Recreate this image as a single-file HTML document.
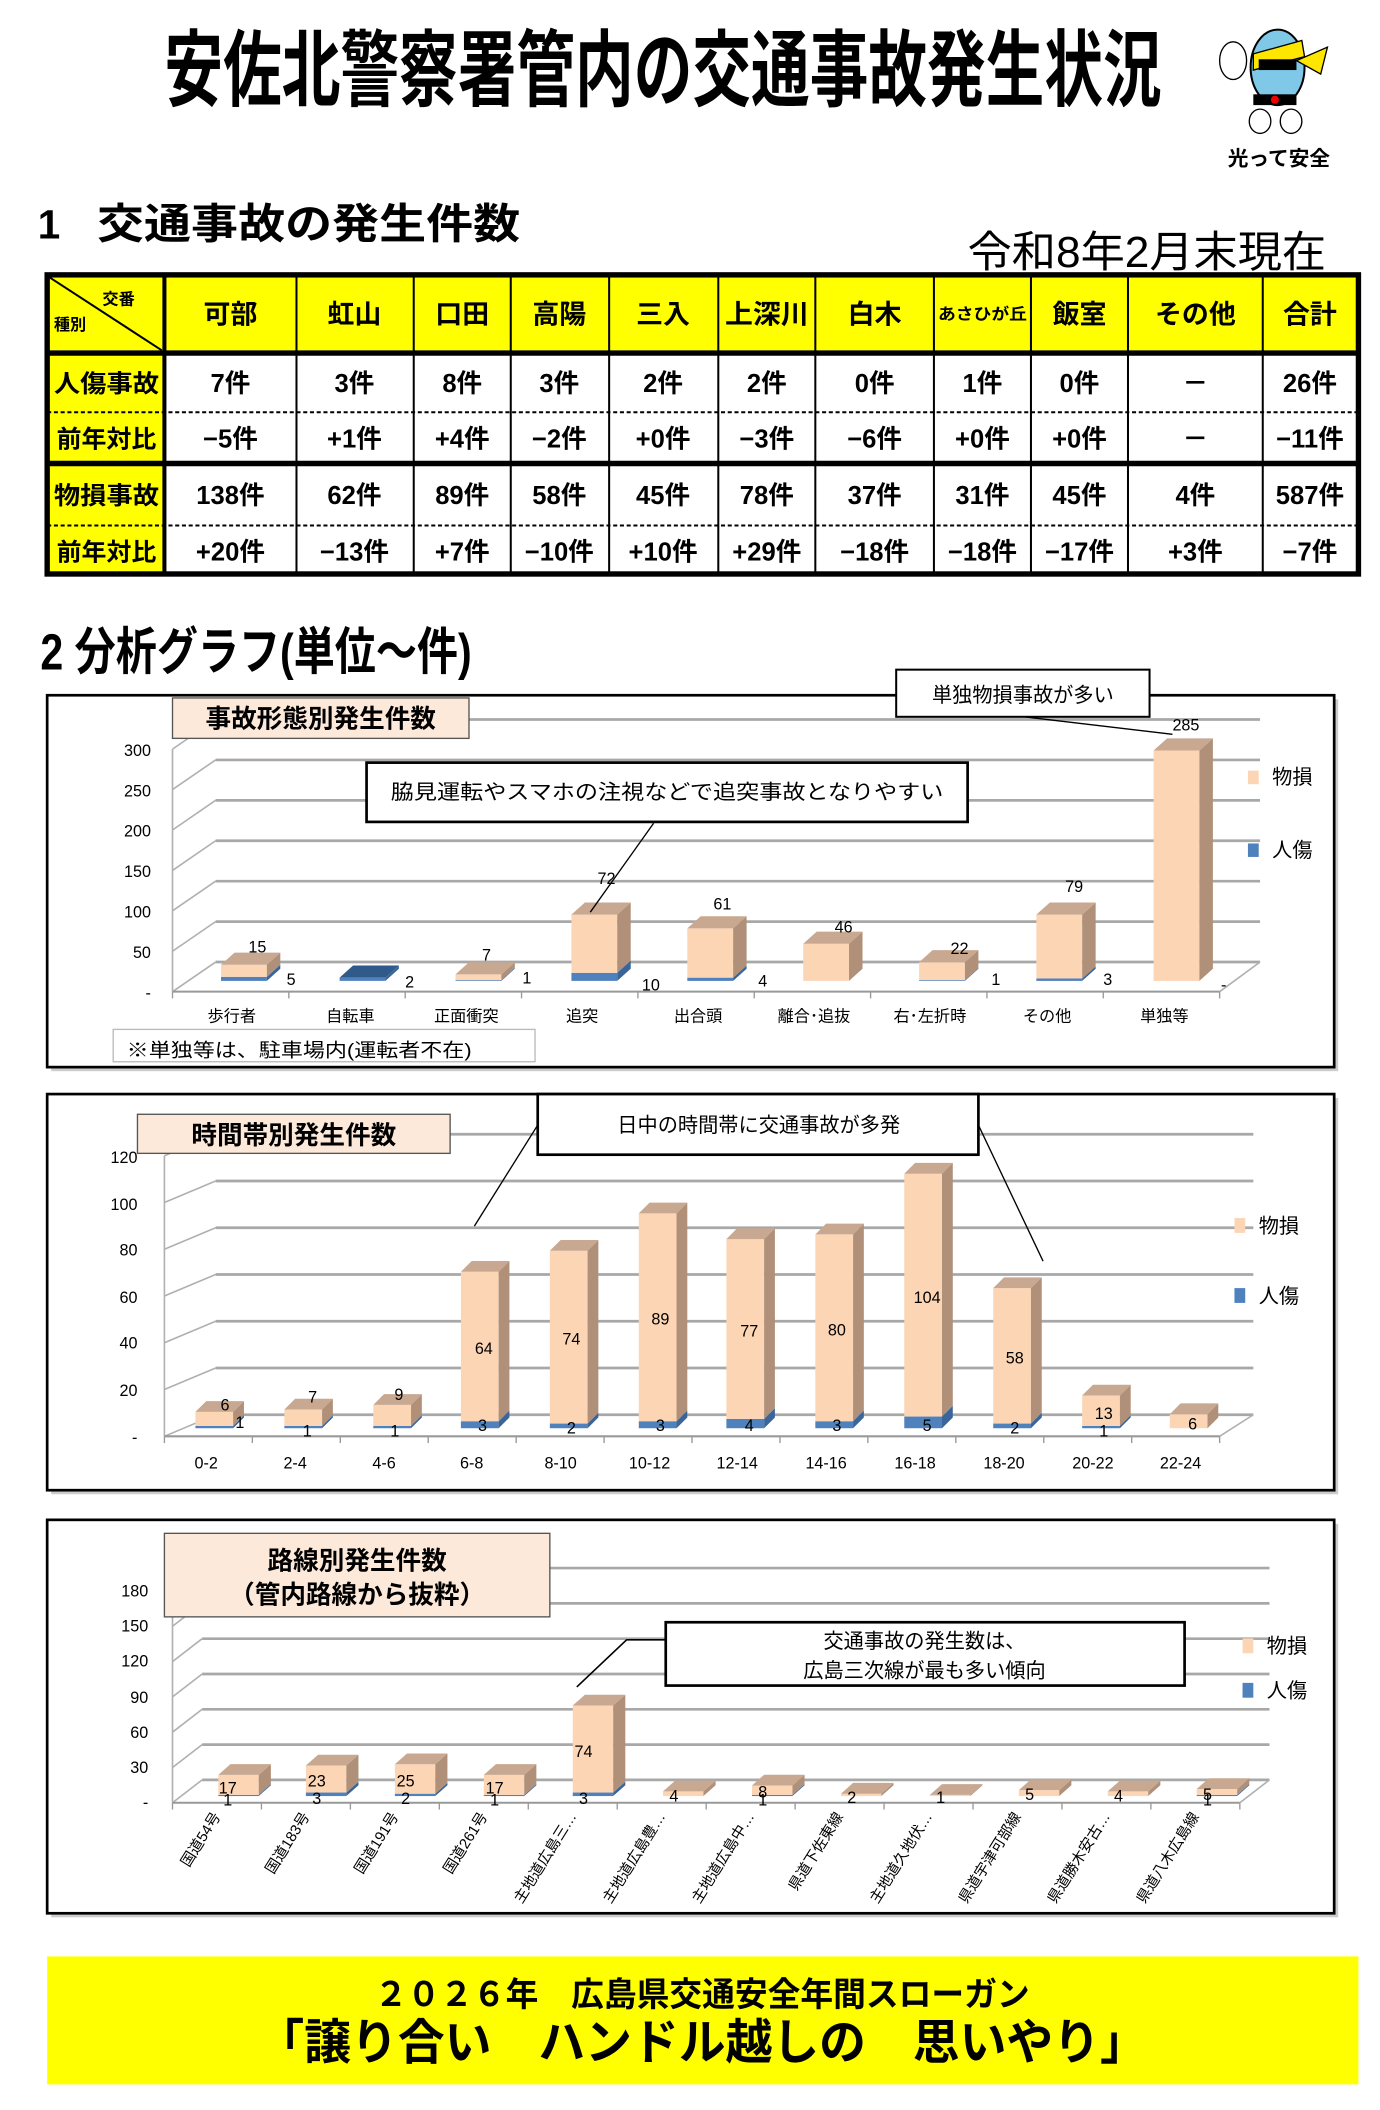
<!DOCTYPE html>
<html><head><meta charset="utf-8"><style>
html,body{margin:0;padding:0;background:#fff}
svg{display:block}
text{font-family:"Liberation Sans","Noto Sans CJK JP",sans-serif}
.b{font-weight:bold}
</style></head><body>
<svg id="s" xmlns="http://www.w3.org/2000/svg" width="1380" height="2110" viewBox="0 0 1024 1566" preserveAspectRatio="none">
<rect width="1024" height="1566" fill="#fff"/>
<text x="122" y="74" font-size="62" class="b" textLength="740" lengthAdjust="spacingAndGlyphs">安佐北警察署管内の交通事故発生状況</text>
<g>
<ellipse cx="948" cy="50" rx="20" ry="28" fill="#7fc8e8" stroke="#000" stroke-width="1.5"/>
<path d="M930 40 L966 30 L968 42 L930 52Z" fill="#ffe600" stroke="#000"/>
<rect x="934" y="44" width="28" height="8" fill="#000"/>
<path d="M962 45 L985 35 L980 55Z" fill="#ffe600" stroke="#000"/>
<ellipse cx="915" cy="45" rx="10" ry="14" fill="#fff" stroke="#000"/>
<rect x="930" y="70" width="32" height="8" fill="#000"/>
<circle cx="946" cy="74" r="3" fill="#e00"/>
<ellipse cx="935" cy="90" rx="8" ry="9" fill="#fff" stroke="#000"/>
<ellipse cx="958" cy="90" rx="8" ry="9" fill="#fff" stroke="#000"/>
<text x="911" y="123" font-size="15" class="b" textLength="76" lengthAdjust="spacingAndGlyphs">光って安全</text>
</g>
<text x="28" y="177" font-size="30" class="b">1</text>
<text x="72" y="177" font-size="31" class="b" textLength="314" lengthAdjust="spacingAndGlyphs">交通事故の発生件数</text>
<text x="718" y="198" font-size="32" textLength="266" lengthAdjust="spacingAndGlyphs">令和8年2月末現在</text>

<g>
<rect x="35" y="204" width="973" height="222" fill="#fff"/>
<rect x="35" y="204" width="973" height="58" fill="#ffff00"/>
<rect x="35" y="204" width="87" height="222" fill="#ffff00"/>
<g stroke="#000" stroke-width="1.5">
<line x1="122" y1="204" x2="122" y2="426" stroke-width="3"/>
<line x1="220" y1="204" x2="220" y2="426"/><line x1="307" y1="204" x2="307" y2="426"/>
<line x1="379" y1="204" x2="379" y2="426"/><line x1="452" y1="204" x2="452" y2="426"/>
<line x1="533" y1="204" x2="533" y2="426"/><line x1="605" y1="204" x2="605" y2="426"/>
<line x1="693" y1="204" x2="693" y2="426"/><line x1="765" y1="204" x2="765" y2="426"/>
<line x1="837" y1="204" x2="837" y2="426"/><line x1="937" y1="204" x2="937" y2="426"/>
<line x1="35" y1="262" x2="1008" y2="262" stroke-width="4"/>
<line x1="35" y1="344" x2="1008" y2="344" stroke-width="4"/>
<line x1="35" y1="306" x2="1008" y2="306" stroke-dasharray="3,2"/>
<line x1="35" y1="390" x2="1008" y2="390" stroke-dasharray="3,2"/>
<line x1="37" y1="206" x2="120" y2="260"/>
</g>
<rect x="35" y="204" width="973" height="222" fill="none" stroke="#000" stroke-width="4"/>
<text x="76" y="226" font-size="12" class="b">交番</text>
<text x="40" y="245" font-size="12" class="b">種別</text>
<g font-size="20" class="b" text-anchor="middle">
<text x="171" y="240">可部</text><text x="263" y="240">虹山</text><text x="343" y="240">口田</text>
<text x="415" y="240">高陽</text><text x="492" y="240">三入</text><text x="569" y="240" textLength="62" lengthAdjust="spacingAndGlyphs">上深川</text>
<text x="649" y="240">白木</text><text x="729" y="237" font-size="12" textLength="66" lengthAdjust="spacingAndGlyphs">あさひが丘</text>
<text x="801" y="240">飯室</text><text x="887" y="240">その他</text><text x="972" y="240">合計</text>
</g>
<g font-size="18" class="b">
<text x="40" y="291" textLength="78" lengthAdjust="spacingAndGlyphs">人傷事故</text>
<text x="42" y="332" textLength="74" lengthAdjust="spacingAndGlyphs">前年対比</text>
<text x="40" y="374" textLength="78" lengthAdjust="spacingAndGlyphs">物損事故</text>
<text x="42" y="416" textLength="74" lengthAdjust="spacingAndGlyphs">前年対比</text>
</g>
<g font-size="19" class="b" text-anchor="middle">
<text x="171" y="291">7件</text><text x="263" y="291">3件</text><text x="343" y="291">8件</text><text x="415" y="291">3件</text><text x="492" y="291">2件</text><text x="569" y="291">2件</text><text x="649" y="291">0件</text><text x="729" y="291">1件</text><text x="801" y="291">0件</text><text x="887" y="291">－</text><text x="972" y="291">26件</text>
<text x="171" y="332">−5件</text><text x="263" y="332">+1件</text><text x="343" y="332">+4件</text><text x="415" y="332">−2件</text><text x="492" y="332">+0件</text><text x="569" y="332">−3件</text><text x="649" y="332">−6件</text><text x="729" y="332">+0件</text><text x="801" y="332">+0件</text><text x="887" y="332">－</text><text x="972" y="332">−11件</text>
<text x="171" y="374">138件</text><text x="263" y="374">62件</text><text x="343" y="374">89件</text><text x="415" y="374">58件</text><text x="492" y="374">45件</text><text x="569" y="374">78件</text><text x="649" y="374">37件</text><text x="729" y="374">31件</text><text x="801" y="374">45件</text><text x="887" y="374">4件</text><text x="972" y="374">587件</text>
<text x="171" y="416">+20件</text><text x="263" y="416">−13件</text><text x="343" y="416">+7件</text><text x="415" y="416">−10件</text><text x="492" y="416">+10件</text><text x="569" y="416">+29件</text><text x="649" y="416">−18件</text><text x="729" y="416">−18件</text><text x="801" y="416">−17件</text><text x="887" y="416">+3件</text><text x="972" y="416">−7件</text>
</g>
</g>

<text x="30" y="497" font-size="38" class="b" textLength="320" lengthAdjust="spacingAndGlyphs">2 分析グラフ(単位～件)</text>

<rect x="38" y="519" width="955" height="276" fill="#ccc"/>
<rect x="35" y="516" width="955" height="276" fill="#fff" stroke="#000" stroke-width="2"/>
<rect x="38" y="815" width="955" height="294" fill="#ccc"/>
<rect x="35" y="812" width="955" height="294" fill="#fff" stroke="#000" stroke-width="2"/>
<rect x="38" y="1131" width="955" height="292" fill="#ccc"/>
<rect x="35" y="1128" width="955" height="292" fill="#fff" stroke="#000" stroke-width="2"/>

<g id="shapes"></g>

<rect x="128" y="518" width="220" height="30" fill="#fde9d9" stroke="#555"/>
<text x="238" y="540" font-size="19" class="b" text-anchor="middle">事故形態別発生件数</text>
<g font-size="12" text-anchor="end">
<text x="112" y="561">300</text><text x="112" y="591">250</text><text x="112" y="621">200</text><text x="112" y="651">150</text><text x="112" y="681">100</text><text x="112" y="711">50</text><text x="112" y="741">-</text>
</g>
<g font-size="12" text-anchor="middle">
<text x="172" y="758">歩行者</text><text x="260" y="758">自転車</text><text x="346" y="758">正面衝突</text><text x="432" y="758">追突</text><text x="518" y="758">出合頭</text><text x="604" y="758">離合･追抜</text><text x="690" y="758">右･左折時</text><text x="777" y="758">その他</text><text x="864" y="758">単独等</text>
<text x="191" y="707">15</text><text x="216" y="731">5</text><text x="304" y="733">2</text><text x="361" y="713">7</text><text x="391" y="730">1</text><text x="450" y="656">72</text><text x="483" y="735">10</text><text x="536" y="675">61</text><text x="566" y="732">4</text><text x="626" y="692">46</text><text x="712" y="708">22</text><text x="739" y="731">1</text><text x="797" y="662">79</text><text x="822" y="731">3</text><text x="880" y="542">285</text><text x="908" y="735">-</text>
</g>
<rect x="84" y="764" width="313" height="24" fill="#fff" stroke="#bbb"/>
<text x="94" y="784" font-size="14" textLength="256" lengthAdjust="spacingAndGlyphs">※単独等は、駐車場内(運転者不在)</text>
<rect x="272" y="566" width="446" height="44" fill="#fff" stroke="#000" stroke-width="2"/>
<text x="495" y="593" font-size="15" text-anchor="middle" textLength="410" lengthAdjust="spacingAndGlyphs">脇見運転やスマホの注視などで追突事故となりやすい</text>
<line x1="485" y1="611" x2="438" y2="677" stroke="#000"/>
<rect x="665" y="497" width="188" height="35" fill="#fff" stroke="#000" stroke-width="1.5"/>
<text x="759" y="521" font-size="15" text-anchor="middle">単独物損事故が多い</text>
<line x1="760" y1="532" x2="870" y2="545" stroke="#000"/>
<rect x="926" y="572" width="8" height="10" fill="#fcd5b4"/><text x="944" y="582" font-size="15">物損</text>
<rect x="926" y="626" width="8" height="10" fill="#4f81bd"/><text x="944" y="636" font-size="15">人傷</text>

<rect x="102" y="827" width="232" height="29" fill="#fde9d9" stroke="#555"/>
<text x="218" y="849" font-size="19" class="b" text-anchor="middle">時間帯別発生件数</text>
<g font-size="12" text-anchor="end">
<text x="102" y="863">120</text><text x="102" y="898">100</text><text x="102" y="932">80</text><text x="102" y="967">60</text><text x="102" y="1001">40</text><text x="102" y="1036">20</text><text x="102" y="1071">-</text>
</g>
<g font-size="12" text-anchor="middle">
<text x="153" y="1090">0-2</text><text x="219" y="1090">2-4</text><text x="285" y="1090">4-6</text><text x="350" y="1090">6-8</text><text x="416" y="1090">8-10</text><text x="482" y="1090">10-12</text><text x="547" y="1090">12-14</text><text x="613" y="1090">14-16</text><text x="679" y="1090">16-18</text><text x="745" y="1090">18-20</text><text x="811" y="1090">20-22</text><text x="876" y="1090">22-24</text>
<text x="167" y="1047">6</text><text x="232" y="1041">7</text><text x="296" y="1039">9</text><text x="359" y="1005">64</text><text x="424" y="998">74</text><text x="490" y="983">89</text><text x="556" y="992">77</text><text x="621" y="991">80</text><text x="688" y="967">104</text><text x="753" y="1012">58</text><text x="819" y="1053">13</text><text x="885" y="1061">6</text>
<text x="178" y="1060">1</text><text x="228" y="1066">1</text><text x="293" y="1066">1</text><text x="358" y="1062">3</text><text x="424" y="1064">2</text><text x="490" y="1062">3</text><text x="556" y="1062">4</text><text x="621" y="1062">3</text><text x="688" y="1062">5</text><text x="753" y="1064">2</text><text x="819" y="1066">1</text>
</g>
<rect x="399" y="812" width="327" height="45" fill="#fff" stroke="#000" stroke-width="2"/>
<text x="563" y="840" font-size="15" text-anchor="middle">日中の時間帯に交通事故が多発</text>
<line x1="399" y1="835" x2="352" y2="910" stroke="#000"/>
<line x1="726" y1="835" x2="774" y2="936" stroke="#000"/>
<rect x="916" y="904" width="8" height="11" fill="#fcd5b4"/><text x="934" y="915" font-size="15">物損</text>
<rect x="916" y="956" width="8" height="11" fill="#4f81bd"/><text x="934" y="967" font-size="15">人傷</text>

<rect x="122" y="1138" width="286" height="62" fill="#fde9d9" stroke="#555"/>
<text x="265" y="1165" font-size="19" class="b" text-anchor="middle">路線別発生件数</text>
<text x="265" y="1190" font-size="19" class="b" text-anchor="middle">（管内路線から抜粋）</text>
<g font-size="12" text-anchor="end">
<text x="110" y="1185">180</text><text x="110" y="1211">150</text><text x="110" y="1237">120</text><text x="110" y="1264">90</text><text x="110" y="1290">60</text><text x="110" y="1316">30</text><text x="110" y="1342">-</text>
</g>
<g font-size="12" text-anchor="middle">
<text x="169" y="1331">17</text><text x="235" y="1326">23</text><text x="301" y="1326">25</text><text x="367" y="1331">17</text><text x="433" y="1304">74</text><text x="500" y="1337">4</text><text x="566" y="1334">8</text><text x="632" y="1338">2</text><text x="698" y="1338">1</text><text x="764" y="1336">5</text><text x="830" y="1337">4</text><text x="896" y="1336">5</text>
<text x="169" y="1340">1</text><text x="235" y="1339">3</text><text x="301" y="1339">2</text><text x="367" y="1340">1</text><text x="433" y="1339">3</text><text x="566" y="1340">1</text><text x="896" y="1340">1</text>
</g>
<g font-size="11" text-anchor="end">
<text transform="translate(164,1348) rotate(-58)">国道54号</text>
<text transform="translate(230,1348) rotate(-58)">国道183号</text>
<text transform="translate(296,1348) rotate(-58)">国道191号</text>
<text transform="translate(362,1348) rotate(-58)">国道261号</text>
<text transform="translate(428,1348) rotate(-58)">主地道広島三…</text>
<text transform="translate(494,1348) rotate(-58)">主地道広島豊…</text>
<text transform="translate(560,1348) rotate(-58)">主地道広島中…</text>
<text transform="translate(626,1348) rotate(-58)">県道下佐東線</text>
<text transform="translate(692,1348) rotate(-58)">主地道久地伏…</text>
<text transform="translate(758,1348) rotate(-58)">県道宇津可部線</text>
<text transform="translate(824,1348) rotate(-58)">県道勝木安古…</text>
<text transform="translate(890,1348) rotate(-58)">県道八木広島線</text>
</g>
<rect x="494" y="1204" width="385" height="47" fill="#fff" stroke="#000" stroke-width="2"/>
<text x="686" y="1223" font-size="15" text-anchor="middle">交通事故の発生数は、</text>
<text x="686" y="1245" font-size="15" text-anchor="middle">広島三次線が最も多い傾向</text>
<polyline points="494,1217 465,1217 428,1252" fill="none" stroke="#000" stroke-width="1.2"/>
<rect x="922" y="1216" width="8" height="11" fill="#fcd5b4"/><text x="940" y="1227" font-size="15">物損</text>
<rect x="922" y="1249" width="8" height="11" fill="#4f81bd"/><text x="940" y="1260" font-size="15">人傷</text>

<rect x="35" y="1452" width="973" height="95" fill="#ffff00"/>
<text x="521" y="1489" font-size="25" class="b" text-anchor="middle" textLength="486" lengthAdjust="spacingAndGlyphs">２０２６年　広島県交通安全年間スローガン</text>
<text x="521" y="1528" font-size="36" class="b" text-anchor="middle" textLength="660" lengthAdjust="spacingAndGlyphs">「譲り合い　ハンドル越しの　思いやり」</text>
</svg>
<script>
(function(){
var g=document.getElementById('shapes'),NS='http://www.w3.org/2000/svg';
function el(t,a){var e=document.createElementNS(NS,t);for(var k in a)e.setAttribute(k,a[k]);g.appendChild(e);return e;}
function poly(p,f){el('polygon',{points:p.map(function(q){return q.join(',')}).join(' '),fill:f});}
function chart(o){
 for(var i=0;i<o.ny;i++){var y=o.y0-i*o.gs;
  el('line',{x1:o.ax,y1:y,x2:o.ax+o.wx,y2:y+o.wy,stroke:'#b0b0b0','stroke-width':1.2});
  el('line',{x1:o.ax+o.wx,y1:y+o.wy,x2:o.gx2,y2:y+o.wy,stroke:'#a8a8a8','stroke-width':2});}
 el('line',{x1:o.ax,y1:o.y0,x2:o.ax,y2:o.y0-(o.ny-1)*o.gs,stroke:'#b0b0b0','stroke-width':1.2});
 el('line',{x1:o.ax,y1:o.y0,x2:o.fx2,y2:o.y0,stroke:'#999','stroke-width':1.5});
 el('line',{x1:o.fx2,y1:o.y0,x2:o.gx2,y2:o.y0+o.wy,stroke:'#b0b0b0','stroke-width':1.2});
 var n=o.c.length,step=(o.fx2-o.ax)/n;
 for(var i=0;i<=n;i++)el('line',{x1:o.ax+i*step,y1:o.y0,x2:o.ax+i*step,y2:o.y0+5,stroke:'#999'});
 for(var i=0;i<n;i++){
  var L=o.c[i]-o.off,w=o.w,B=o.B,dx=o.dx,dy=o.dy;
  var hb=o.inj[i]*o.k,hp=o.prop[i]*o.k;
  if(hb>0){el('rect',{x:L,y:B-hb,width:w,height:hb,fill:'#4f81bd'});
   poly([[L+w,B],[L+w+dx,B+dy],[L+w+dx,B-hb+dy],[L+w,B-hb]],'#3a659a');
   if(hp==0)poly([[L,B-hb],[L+dx,B-hb+dy],[L+w+dx,B-hb+dy],[L+w,B-hb]],'#2f5a8a');}
  if(hp>0){var b2=B-hb;el('rect',{x:L,y:b2-hp,width:w,height:hp,fill:'#fcd5b4'});
   poly([[L+w,b2],[L+w+dx,b2+dy],[L+w+dx,b2-hp+dy],[L+w,b2-hp]],'#b09078');
   poly([[L,b2-hp],[L+dx,b2-hp+dy],[L+w+dx,b2-hp+dy],[L+w,b2-hp]],'#c8a890');}
 }
}
chart({ax:128,y0:736,gs:30,ny:7,wx:32,wy:-22,gx2:935,fx2:905,
 c:[172,260,346,432,518,604,690,777,864],off:8,w:34,B:728,dx:10,dy:-9,k:0.6,
 inj:[5,4,1,10,4,0,1,3,0],prop:[15,0,7,72,61,46,22,79,285]});
chart({ax:122,y0:1066,gs:34.7,ny:7,wx:38,wy:-16,gx2:930,fx2:905,
 c:[153,219,285,350,416,482,547,613,679,745,811,876],off:8,w:28,B:1060,dx:8,dy:-8,k:1.733,
 inj:[1,1,1,3,2,3,4,3,5,2,1,0],prop:[6,7,9,64,74,89,77,80,104,58,13,6]});
chart({ax:128,y0:1338,gs:26.2,ny:7,wx:22,wy:-17,gx2:942,fx2:920,
 c:[170,235,301,367,433,500,566,632,698,764,830,896],off:8,w:30,B:1333,dx:9,dy:-8,k:0.873,
 inj:[1,3,2,1,3,0,1,0,0,0,0,1],prop:[17,23,25,17,74,4,8,2,1,5,4,5]});
})();
</script>
</body></html>
